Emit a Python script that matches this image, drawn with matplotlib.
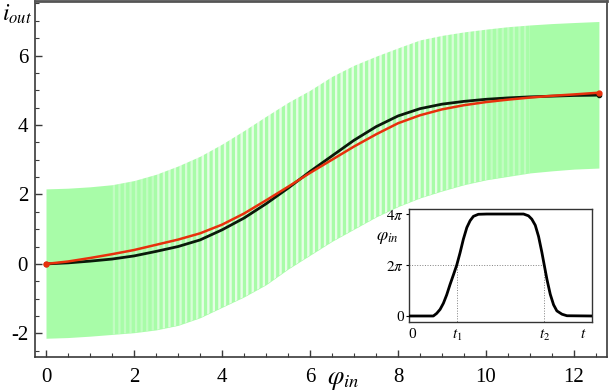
import numpy as np
import matplotlib
matplotlib.use('Agg')
from matplotlib import pyplot as plt
from matplotlib.ticker import MultipleLocator

plt.rcParams['font.family'] = ['Liberation Serif', 'DejaVu Serif']
plt.rcParams['mathtext.fontset'] = 'stix'
plt.rcParams['hatch.linewidth'] = 1.6

# main panel: phase points and the curves
phi_pts = [0, 0.5, 1.0, 1.5, 2.0, 2.5, 3.0, 3.5, 4.0, 4.5, 5.0, 5.5, 6.0,
           6.5, 7.0, 7.5, 8.0, 8.5, 9.0, 9.5, 10.0, 10.5, 11.0, 11.5, 12.0, 12.566]
i_black = [0, 0.03, 0.08, 0.14, 0.23, 0.36, 0.50, 0.69, 0.98, 1.32, 1.73, 2.18, 2.66,
           3.11, 3.56, 3.95, 4.26, 4.47, 4.60, 4.68, 4.74, 4.78, 4.81, 4.83, 4.85, 4.86]
i_red = [0, 0.07, 0.17, 0.28, 0.40, 0.55, 0.70, 0.88, 1.13, 1.45, 1.83, 2.22, 2.62,
         3.00, 3.38, 3.73, 4.05, 4.28, 4.45, 4.57, 4.66, 4.73, 4.79, 4.84, 4.88, 4.93]

# envelope of the fast oscillating current (green band)
osc_upper = [2.16, 2.18, 2.22, 2.28, 2.40, 2.58, 2.82, 3.10, 3.45, 3.84, 4.25, 4.65, 5.00,
             5.40, 5.72, 5.98, 6.22, 6.45, 6.58, 6.68, 6.76, 6.83, 6.88, 6.92, 6.95, 6.98]
osc_lower = [-2.14, -2.12, -2.08, -2.03, -1.98, -1.90, -1.77, -1.55, -1.25, -0.95, -0.60, -0.15, 0.25,
             0.65, 1.00, 1.35, 1.65, 1.90, 2.10, 2.28, 2.42, 2.52, 2.62, 2.68, 2.73, 2.76]

# inset: phi_in(t), phi in units of pi
t_pts = [0, 1.33, 1.51, 1.70, 1.88, 2.06, 2.24, 2.43, 2.61, 2.79, 2.97, 3.16, 3.34, 3.52, 3.79, 4.25,
         6.26, 6.53, 6.71, 6.90, 7.08, 7.26, 7.39, 7.54, 7.72, 7.90, 8.08, 8.36, 8.63, 10.0]
phi_t = [0, 0, 0.10, 0.26, 0.50, 0.83, 1.23, 1.62, 2.0, 2.48, 3.01, 3.47, 3.74, 3.91, 3.99, 4.0,
         4.0, 3.93, 3.80, 3.56, 3.12, 2.50, 2.0, 1.43, 0.85, 0.44, 0.20, 0.07, 0.01, 0]
t1, t2 = 2.61, 7.39

frame_col = '#3a3a3a'


def stripe_band(ax, lo_phi, hi_phi, alpha):
    # white vertical gaps between the green stripes, only over a part of the band
    sel = [k for k, p in enumerate(phi_pts) if lo_phi <= p <= hi_phi]
    ax.fill_between([phi_pts[k] for k in sel], [osc_lower[k] for k in sel],
                    [osc_upper[k] for k in sel], facecolor='none',
                    edgecolor=(1, 1, 1, alpha), hatch='|||', lw=0, zorder=2)


fig = plt.figure(figsize=(6.11, 3.92), dpi=100)
ax = fig.add_axes([35 / 611, 1 - 357 / 392, 572 / 611, 356 / 392])

ax.fill_between(phi_pts, osc_lower, osc_upper, color='#a8fca8', lw=0, zorder=1)
stripe_band(ax, 1.5, 11.0, 0.3)
stripe_band(ax, 2.5, 10.0, 0.35)
stripe_band(ax, 3.5, 9.0, 0.4)

ax.plot(phi_pts, i_black, color='#0a1a0a', lw=2.0, zorder=3,
        marker='o', ms=3, markevery=[0, len(phi_pts) - 1])
ax.plot(phi_pts, i_red, color='#e8300c', lw=1.8, zorder=4,
        marker='o', ms=3.5, markevery=[0, len(phi_pts) - 1])

ax.set_xlim(-0.25, 12.75)
ax.set_ylim(-2.68, 7.57)
ax.xaxis.set_major_locator(MultipleLocator(2))
ax.xaxis.set_minor_locator(MultipleLocator(0.5))
ax.set_yticks([-2, 0, 2, 4, 6])
ax.set_yticklabels(['-2', '0', '2', '4', '6'])
ax.yaxis.set_minor_locator(MultipleLocator(0.5))
ax.tick_params(which='both', direction='in', color=frame_col, labelsize=15)
ax.tick_params(which='major', length=5, width=1.0)
ax.tick_params(which='minor', length=3, width=0.8)
ax.tick_params(axis='x', pad=8)
ax.tick_params(axis='y', pad=5)
for s in ax.spines.values():
    s.set_color(frame_col)
    s.set_linewidth(1.2)
ax.spines['top'].set_linewidth(2.0)
ax.spines['top'].set_color('#555555')

fig.text(2 / 611, 1 - 14 / 392, r'$i_{out}$', fontsize=17, va='center', ha='left')
fig.text(343 / 611, 1 - 381 / 392, r'$\varphi_{in}$', fontsize=19, va='center', ha='center')

# inset
ins = fig.add_axes([409 / 611, 1 - 322 / 392, 183 / 611, 113 / 392], zorder=5)
ins.set_facecolor('white')
ins.plot(t_pts, [v * np.pi for v in phi_t], color='black', lw=2.0, zorder=3)
ins.plot([0, t2], [2 * np.pi, 2 * np.pi], color='gray', lw=0.7, ls=':')
ins.plot([t1, t1], [-1, 2 * np.pi], color='gray', lw=0.7, ls=':')
ins.plot([t2, t2], [-1, 2 * np.pi], color='gray', lw=0.7, ls=':')
ins.set_xlim(0, 10)
ins.set_ylim(-0.74, 4 * np.pi + 0.62)
ins.set_yticks([0, 2 * np.pi, 4 * np.pi])
ins.set_yticklabels(['0', r'$2\pi$', r'$4\pi$'])
ins.set_xticks([0.16, t1, t2, 9.5])
ins.set_xticklabels(['0', r'$t_1$', r'$t_2$', r'$t$'])
ins.tick_params(axis='y', direction='out', length=2.5, width=0.8, pad=1, labelsize=11)
ins.tick_params(axis='x', direction='in', length=0, pad=4, labelsize=11)
for s in ins.spines.values():
    s.set_color('#333333')
    s.set_linewidth(1.0)
fig.text(387 / 611, 1 - 237 / 392, r'$\varphi_{in}$', fontsize=13, va='center', ha='center')

fig.savefig('out.png', dpi=100)
plt.close(fig)
